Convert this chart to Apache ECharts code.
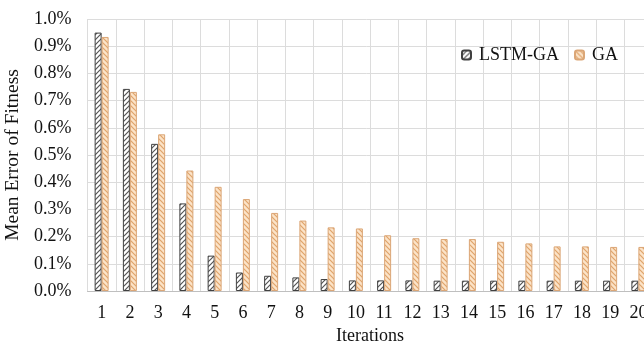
<!DOCTYPE html>
<html><head><meta charset="utf-8">
<script src="https://cdn.jsdelivr.net/npm/echarts@6/dist/echarts.min.js"></script>
<style>html,body{margin:0;padding:0;background:#fff}#c{width:644px;height:347px}</style>
</head><body><div id="c"></div>
<script>
const categories = ['1','2','3','4','5','6','7','8','9','10','11','12','13','14','15','16','17','18','19','20'];
const lstmGA = [0.95,0.743,0.541,0.322,0.130,0.068,0.056,0.050,0.044,0.039,0.039,0.039,0.038,0.038,0.038,0.038,0.038,0.038,0.038,0.038];
const ga = [0.934,0.732,0.576,0.443,0.383,0.338,0.287,0.259,0.234,0.230,0.205,0.194,0.191,0.191,0.181,0.175,0.164,0.164,0.162,0.162];

function hatch(bg, fg, dir) {
  const s = 5, c = document.createElement('canvas');
  c.width = s; c.height = s;
  const g = c.getContext('2d');
  g.fillStyle = bg; g.fillRect(0,0,s,s);
  g.strokeStyle = fg; g.lineWidth = 1.2;
  g.beginPath();
  if (dir > 0) {
    g.moveTo(-1, s+1); g.lineTo(s+1, -1);
    g.moveTo(-1, 1); g.lineTo(1, -1);
    g.moveTo(s-1, s+1); g.lineTo(s+1, s-1);
  } else {
    g.moveTo(-1, -1); g.lineTo(s+1, s+1);
    g.moveTo(s-1, -1); g.lineTo(s+1, 1);
    g.moveTo(-1, s-1); g.lineTo(1, s+1);
  }
  g.stroke();
  return {image: c, repeat: 'repeat'};
}
const font = '"Liberation Serif", "Times New Roman", serif';
const chart = echarts.init(document.getElementById('c'), null, {renderer: 'canvas'});
chart.setOption({
  animation: false,
  textStyle: {fontFamily: font},
  grid: {left: 87.5, right: -8.5, top: 19, bottom: 56, containLabel: false, outerBoundsMode: 'none'},
  legend: {
    left: 461, top: 46, padding: 0, itemWidth: 9, itemHeight: 9, itemGap: 15,
    textStyle: {fontFamily: font, fontSize: 18, color: '#111', padding: [0, 0, 0, 3]},
    data: ['LSTM-GA', 'GA']
  },
  xAxis: {
    type: 'category', data: categories,
    name: 'Iterations', nameLocation: 'middle', nameGap: 36,
    nameTextStyle: {fontFamily: font, fontSize: 18, color: '#111'},
    axisLine: {lineStyle: {color: '#bfbfbf'}},
    axisTick: {show: false},
    axisLabel: {fontFamily: font, fontSize: 18, color: '#111', margin: 13, interval: 0},
    splitLine: {show: true, lineStyle: {color: '#dcdcdc'}}
  },
  yAxis: {
    type: 'value', min: 0, max: 1.0, interval: 0.1,
    name: 'Mean Error of Fitness', nameLocation: 'middle', nameGap: 59,
    nameTextStyle: {fontFamily: font, fontSize: 19.5, color: '#111'},
    axisLine: {show: false}, axisTick: {show: false},
    axisLabel: {fontFamily: font, fontSize: 18, color: '#111', margin: 16,
      formatter: v => v.toFixed(1) + '%'},
    splitLine: {lineStyle: {color: '#dcdcdc'}}
  },
  series: [
    {name: 'LSTM-GA', type: 'bar', data: lstmGA, barWidth: 7, barGap: '0%',
      itemStyle: {color: hatch('#ffffff', '#555555', 1), borderColor: '#404040', borderWidth: 1}},
    {name: 'GA', type: 'bar', data: ga, barWidth: 7,
      itemStyle: {color: hatch('#fbe3c8', '#e0a46a', -1), borderColor: '#dba676', borderWidth: 1}}
  ]
});
</script></body></html>
